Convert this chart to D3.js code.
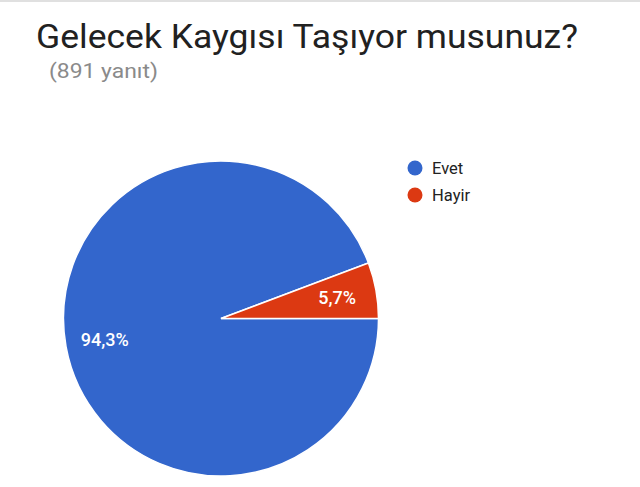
<!DOCTYPE html>
<html>
<head>
<meta charset="utf-8">
<script src="https://cdn.jsdelivr.net/npm/d3@7"></script>
<style>
  body { margin: 0; background: #fff; }
  svg { display: block; }
</style>
</head>
<body>
<span></span>
<script>
// pie chart of survey answers (Google Forms style)

const categories = ["Evet", "Hayir"];
const counts = [840, 51];
const colors = ["#3366cc", "#dc3912"];
const title = "Gelecek Kaygısı Taşıyor musunuz?";
const subtitle = "(891 yanıt)";

var width = 640;
var height = 487;
var radius = 157.5;
var cx = 221, cy = 318.5;

const data = categories.map(function(c, i) {
    return { name: c, value: counts[i], color: colors[i] };
});
const total = d3.sum(counts);

const svg = d3.select("span")
    .append("svg")
    .attr("width", width)
    .attr("height", height);

// thin gray line at the top of the card
svg.append("rect")
    .attr("x", 0).attr("y", 0)
    .attr("width", width).attr("height", 2)
    .attr("fill", "#e0e0e0");

svg.append("text")
    .attr("x", 36)
    .attr("y", 48)
    .attr("textLength", 542)
    .attr("lengthAdjust", "spacingAndGlyphs")
    .style("font-family", "Roboto")
    .style("font-size", "34px")
    .attr("fill", "#212121")
    .text(title);

svg.append("text")
    .attr("x", 49)
    .attr("y", 78)
    .attr("textLength", 109)
    .attr("lengthAdjust", "spacingAndGlyphs")
    .style("font-family", "Roboto")
    .style("font-size", "21px")
    .attr("fill", "#8a8a8a")
    .text(subtitle);

// pie starts at 3 o'clock, going clockwise
const pie = d3.pie()
    .value(d => d.value)
    .sort(null)
    .startAngle(Math.PI / 2)
    .endAngle(Math.PI / 2 + 2 * Math.PI);

const arc = d3.arc().innerRadius(0).outerRadius(radius);
const labelArc = d3.arc().innerRadius(radius * 0.75).outerRadius(radius * 0.75);

const g = svg.append("g")
    .attr("transform", `translate(${cx}, ${cy})`);

const slices = pie(data);

g.selectAll("path")
    .data(slices)
    .enter()
    .append("path")
    .attr("d", arc)
    .attr("fill", d => d.data.color)
    .attr("stroke", "#fff")
    .attr("stroke-width", 1.5);

g.selectAll("text")
    .data(slices)
    .enter()
    .append("text")
    .attr("transform", d => `translate(${labelArc.centroid(d)})`)
    .attr("text-anchor", "middle")
    .attr("dy", "0.35em")
    .style("font-family", "Roboto")
    .style("font-size", "18px")
    .style("font-weight", "500")
    .attr("fill", "#fff")
    .text(d => (d.data.value / total * 100).toFixed(1).replace(".", ",") + "%");

// legend
const legend = svg.append("g")
    .attr("transform", "translate(415, 168)");

const items = legend.selectAll("g")
    .data(data)
    .enter()
    .append("g")
    .attr("transform", (d, i) => `translate(0, ${i * 27})`);

items.append("circle")
    .attr("r", 7.5)
    .attr("fill", d => d.color);

items.append("text")
    .attr("x", 17)
    .attr("y", 6)
    .style("font-family", "Roboto")
    .style("font-size", "16.5px")
    .attr("fill", "#222")
    .text(d => d.name);
</script>
</body>
</html>
